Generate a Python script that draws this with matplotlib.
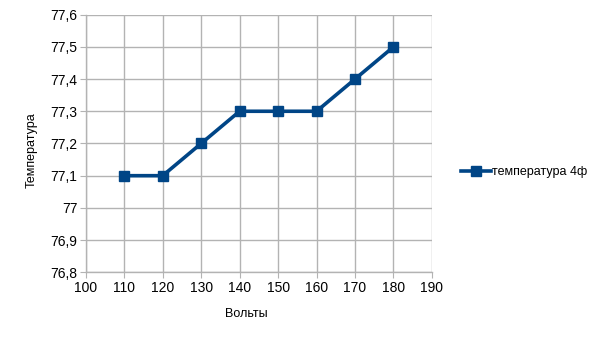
import matplotlib
matplotlib.use("Agg")
import matplotlib.pyplot as plt
from matplotlib.ticker import FuncFormatter, MultipleLocator

plt.rcParams['font.family'] = ['Liberation Sans', 'DejaVu Sans']

volts = [110, 120, 130, 140, 150, 160, 170, 180]
temps = [77.1, 77.1, 77.2, 77.3, 77.3, 77.3, 77.4, 77.5]

fig = plt.figure(figsize=(6.05, 3.4), dpi=100)
ax = fig.add_axes([0.1417, 0.199, 0.5723, 0.758])

ax.plot(volts, temps, color='#004586', lw=2.6, marker='s', ms=7.5,
        label='температура 4ф', zorder=3)

ax.set_xlim(100, 190)
ax.set_ylim(76.8, 77.6)
ax.xaxis.set_major_locator(MultipleLocator(10))
ax.yaxis.set_major_locator(MultipleLocator(0.1))
ax.yaxis.set_major_formatter(FuncFormatter(
    lambda v, p: ('%.1f' % v).rstrip('0').rstrip('.').replace('.', ',')))

ax.grid(True, color='#b3b3b3', lw=1)
ax.set_axisbelow(True)
for s in ax.spines.values():
    s.set_visible(False)
ax.tick_params(axis='both', length=4, color='#b3b3b3', labelsize=10,
               labelcolor='black', pad=2)
ax.axhline(76.8, color='#b3b3b3', lw=1, clip_on=False)
ax.axvline(100, color='#b3b3b3', lw=1, clip_on=False)

ax.set_xlabel('Вольты', fontsize=9)
ax.set_ylabel('Температура', fontsize=9)
ax.xaxis.set_label_coords(0.464, -0.14)
ax.yaxis.set_label_coords(-0.14, 0.474)

ax.legend(loc='center left', bbox_to_anchor=(1.05, 0.389), frameon=False,
          fontsize=9, handlelength=2.4, handletextpad=0.15, markerscale=0.9)

fig.savefig('out.png', dpi=100)
